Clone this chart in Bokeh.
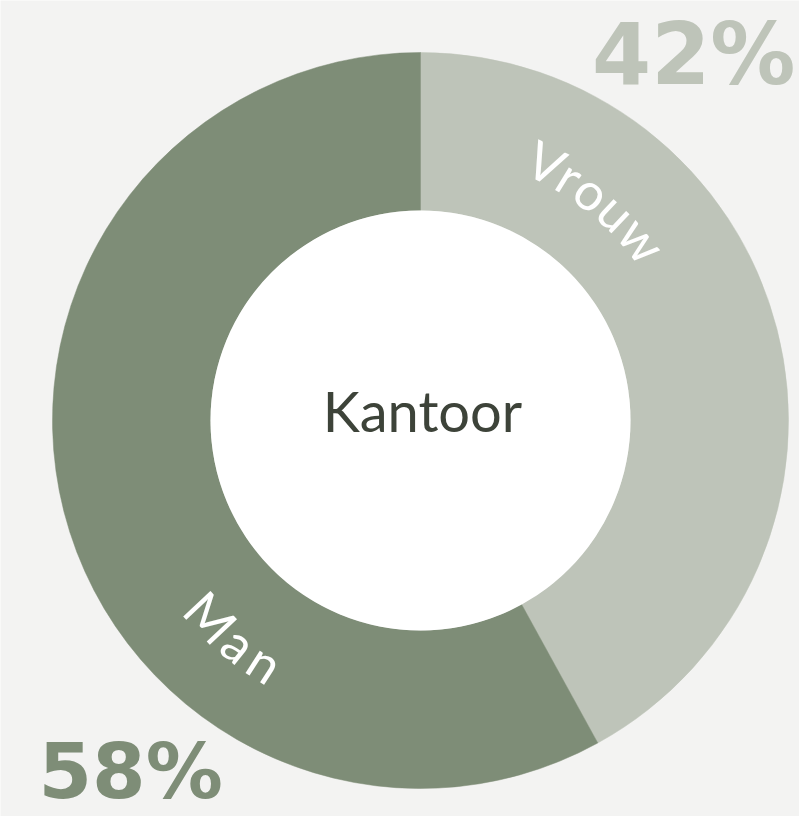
import numpy as np
from bokeh.plotting import figure
from bokeh.models import Range1d, ColumnDataSource
from bokeh.core.properties import value
from bokeh.embed import file_html
from bokeh.resources import INLINE

# ---- data ----
categories = ["Vrouw", "Man"]
shares = [42, 58]
pct_labels = ["42%", "58%"]
center_label = "Kantoor"
colors = ["#bec4b9", "#7e8d77"]

# ---- layout ----
W, H = 799, 816
cx, cy = 420, H - 420
r_out, r_in = 368, 210
r_text = 287
label_center_deg = [51.0, 229.5]   # where each curved label sits
label_font_px = 52

p = figure(width=W, height=H, output_backend="svg", toolbar_location=None,
           x_range=Range1d(0, W), y_range=Range1d(0, H), min_border=0)
p.axis.visible = False
p.grid.visible = False
p.outline_line_color = None
p.background_fill_color = "#f3f3f2"
p.border_fill_color = "#f3f3f2"

fr = np.array(shares, dtype=float) / sum(shares)
ends = np.pi / 2 - 2 * np.pi * np.cumsum(fr)
starts = np.concatenate([[np.pi / 2], ends[:-1]])
src = ColumnDataSource(dict(start=starts, end=ends, color=colors, cat=categories))
p.annular_wedge(x=cx, y=cy, inner_radius=r_in, outer_radius=r_out,
                start_angle="start", end_angle="end", direction="clock",
                fill_color="color", line_color="color", line_width=0.5, source=src)
p.circle(x=cx, y=cy, radius=r_in, fill_color="white", line_color=None)

# curved labels, letter by letter
widths = {"V": 0.64, "r": 0.42, "o": 0.62, "u": 0.60, "w": 0.86,
          "M": 0.88, "a": 0.62, "n": 0.60}
for i, word in enumerate(categories):
    th0 = np.deg2rad(label_center_deg[i])
    adv = np.array([widths.get(c, 0.6) * label_font_px for c in word])
    total = adv.sum()
    s = np.cumsum(adv) - adv / 2 - total / 2
    top = np.sin(th0) > 0
    if top:
        th = th0 - s / r_text
        rot = th - np.pi / 2
    else:
        th = th0 + s / r_text
        rot = th + np.pi / 2
    p.text(x=cx + r_text * np.cos(th), y=cy + r_text * np.sin(th), text=list(word),
           angle=rot, text_align="center", text_baseline="middle",
           text_font=value("Lato"), text_font_size=f"{label_font_px}px",
           text_color="white")

p.text(x=[cx + 2], y=[cy + 10], text=[center_label], text_align="center", text_baseline="middle",
       text_font=value("Lato"), text_font_size="56px", text_color="#3d4339")

p.text(x=[795], y=[H - 54], text=[pct_labels[0]], text_align="right",
       text_baseline="alphabetic", text_font=value("DejaVu Sans"),
       text_font_style="bold", text_font_size="85px", text_color=colors[0])
p.text(x=[38], y=[H - 771], text=[pct_labels[1]], text_align="left",
       text_baseline="alphabetic", text_font=value("DejaVu Sans"),
       text_font_style="bold", text_font_size="77px", text_color=colors[1])

open("out.html", "w").write(file_html(p, INLINE))
